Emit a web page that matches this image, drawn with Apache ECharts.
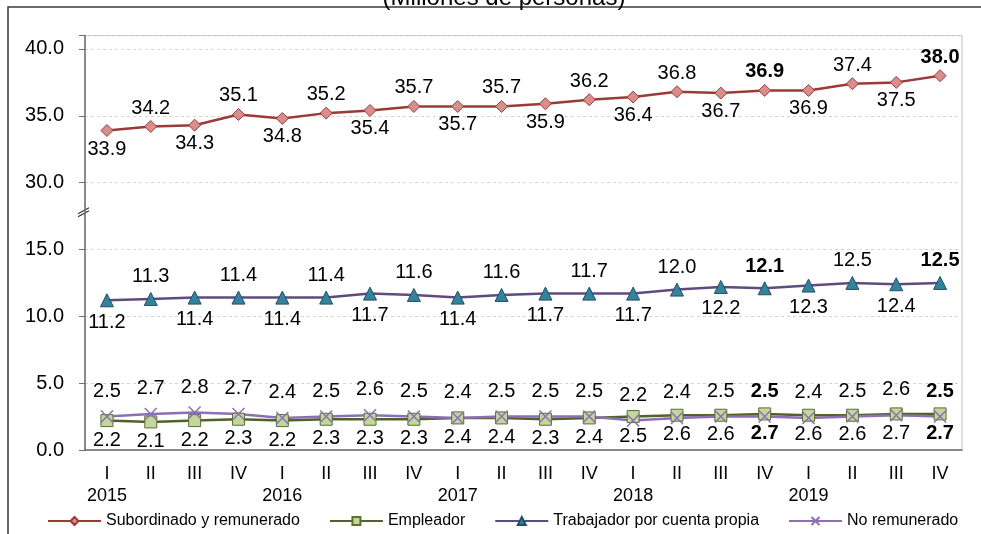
<!DOCTYPE html>
<html>
<head>
<meta charset="utf-8">
<script src="https://cdn.jsdelivr.net/npm/echarts@6/dist/echarts.min.js"></script>
<style>
  html, body { margin: 0; padding: 0; background: #fff; }
  #chart { width: 981px; height: 534px; }
</style>
</head>
<body>
<div id="chart"></div>
<script>
var years = ['2015', '2016', '2017', '2018', '2019'];
var quarters = ['I', 'II', 'III', 'IV'];
var subordinado = [33.9, 34.2, 34.3, 35.1, 34.8, 35.2, 35.4, 35.7, 35.7, 35.7, 35.9, 36.2, 36.4, 36.8, 36.7, 36.9, 36.9, 37.4, 37.5, 38.0];
var empleador = [2.2, 2.1, 2.2, 2.3, 2.2, 2.3, 2.3, 2.3, 2.4, 2.4, 2.3, 2.4, 2.5, 2.6, 2.6, 2.7, 2.6, 2.6, 2.7, 2.7];
var cuentaPropia = [11.2, 11.3, 11.4, 11.4, 11.4, 11.4, 11.7, 11.6, 11.4, 11.6, 11.7, 11.7, 11.7, 12.0, 12.2, 12.1, 12.3, 12.5, 12.4, 12.5];
var noRemunerado = [2.5, 2.7, 2.8, 2.7, 2.4, 2.5, 2.6, 2.5, 2.4, 2.5, 2.5, 2.5, 2.2, 2.4, 2.5, 2.5, 2.4, 2.5, 2.6, 2.5];
var boldIdx = [15, 19];
// axis is broken between 15 and 30: upper values are drawn 10 lower
var breakShift = 10;

var categories = [];
years.forEach(function (y) {
  quarters.forEach(function (q) { categories.push(y + '-' + q); });
});

var chartDom = document.getElementById('chart');
var myChart = echarts.init(chartDom);
var font = 'Liberation Sans, Arial, sans-serif';

function makeData(arr, shift, pos) {
  return arr.map(function (v, i) {
    var p = typeof pos === 'function' ? pos(i) : pos;
    return {
      value: +(v - shift).toFixed(2),
      orig: v,
      label: { position: p, fontWeight: boldIdx.indexOf(i) >= 0 ? 'bold' : 'normal' }
    };
  });
}
function altPos(i) { return i % 2 === 0 ? 'bottom' : 'top'; }

var labelBase = {
  show: true,
  fontSize: 20,
  fontFamily: font,
  color: '#000',
  formatter: function (p) { return p.data.orig.toFixed(1); }
};

var option = {
  animation: false,
  textStyle: { fontFamily: font },
  title: {
    text: '(Millones de personas)',
    left: 499,
    textAlign: 'center',
    top: -19,
    textStyle: { fontSize: 24, fontWeight: 'normal', color: '#000', fontFamily: font }
  },
  legend: {
    left: 42,
    top: 508,
    itemWidth: 53,
    itemHeight: 10,
    itemGap: 29,
    textStyle: { fontSize: 16, color: '#000', fontFamily: font }
  },
  grid: {
    left: 85, right: 19, top: 35.6, bottom: 84,
    show: true, borderColor: '#bdbdbd', borderWidth: 1
  },
  xAxis: {
    type: 'category',
    data: categories,
    boundaryGap: true,
    axisLine: { lineStyle: { color: '#6e6e6e', width: 1.5 } },
    axisTick: { interval: 3, length: 8, lineStyle: { color: '#6e6e6e' } },
    axisLabel: {
      interval: 0,
      margin: 13,
      fontSize: 18,
      lineHeight: 22,
      color: '#000',
      formatter: function (v, i) {
        var parts = v.split('-');
        return i % 4 === 0 ? parts[1] + '\n' + parts[0] : parts[1];
      }
    }
  },
  yAxis: {
    type: 'value',
    min: 0,
    max: 31,
    interval: 5,
    axisLine: { show: true, lineStyle: { color: '#6e6e6e', width: 1.5 } },
    axisTick: { show: true, length: 6, lineStyle: { color: '#6e6e6e' } },
    axisLabel: {
      margin: 21,
      fontSize: 20,
      color: '#000',
      formatter: function (v) {
        if (v % 5 !== 0) return '';
        return (v <= 15 ? v : v + breakShift).toFixed(1);
      }
    },
    splitLine: { lineStyle: { color: '#d4d4d4', type: [3, 3] } }
  },
  series: [
    {
      name: 'Subordinado y remunerado',
      type: 'line',
      data: makeData(subordinado, breakShift, altPos),
      symbol: 'diamond',
      symbolSize: 12,
      lineStyle: { color: '#9c3a38', width: 2.5 },
      itemStyle: { color: '#d88e8c', borderColor: '#9c3a38', borderWidth: 1 },
      label: Object.assign({ distance: 2 }, labelBase)
    },
    {
      name: 'Empleador',
      type: 'line',
      data: makeData(empleador, 0, 'bottom'),
      symbol: 'rect',
      symbolSize: 12,
      lineStyle: { color: '#4f6228', width: 2.5 },
      itemStyle: { color: '#c3d69b', borderColor: '#5a7030', borderWidth: 1 },
      label: Object.assign({ distance: 3 }, labelBase)
    },
    {
      name: 'Trabajador por cuenta propia',
      type: 'line',
      data: makeData(cuentaPropia, 0, altPos),
      symbol: 'triangle',
      symbolSize: 13,
      lineStyle: { color: '#5f4b80', width: 2.5 },
      itemStyle: { color: '#31849b', borderColor: '#254e66', borderWidth: 1 },
      label: Object.assign({ distance: 5 }, labelBase)
    },
    {
      name: 'No remunerado',
      type: 'line',
      data: makeData(noRemunerado, 0, 'top'),
      symbol: 'path://M0,0 L10,10 M10,0 L0,10',
      symbolSize: 12,
      lineStyle: { color: '#8c6fb6', width: 2.5 },
      itemStyle: { color: 'none', borderColor: '#8c6fb6', borderWidth: 1.5 },
      label: Object.assign({ distance: 7 }, labelBase)
    }
  ]
};

myChart.setOption(option);

// outer frame and break marks on the value axis between 15 and 30
var yb = myChart.convertToPixel({ gridIndex: 0 }, [0, 17.9])[1];
myChart.setOption({
  graphic: [
    {
      type: 'rect',
      shape: { x: 8, y: 7, width: 1000, height: 600 },
      style: { fill: 'none', stroke: '#3a3a3a', lineWidth: 1.5 },
      silent: true
    },
    {
      type: 'line',
      shape: { x1: 78, y1: yb + 3, x2: 89, y2: yb - 3 },
      style: { stroke: '#333', lineWidth: 1.2 }
    },
    {
      type: 'line',
      shape: { x1: 78, y1: yb + 6, x2: 89, y2: yb },
      style: { stroke: '#333', lineWidth: 1.2 }
    }
  ]
});
</script>
</body>
</html>
